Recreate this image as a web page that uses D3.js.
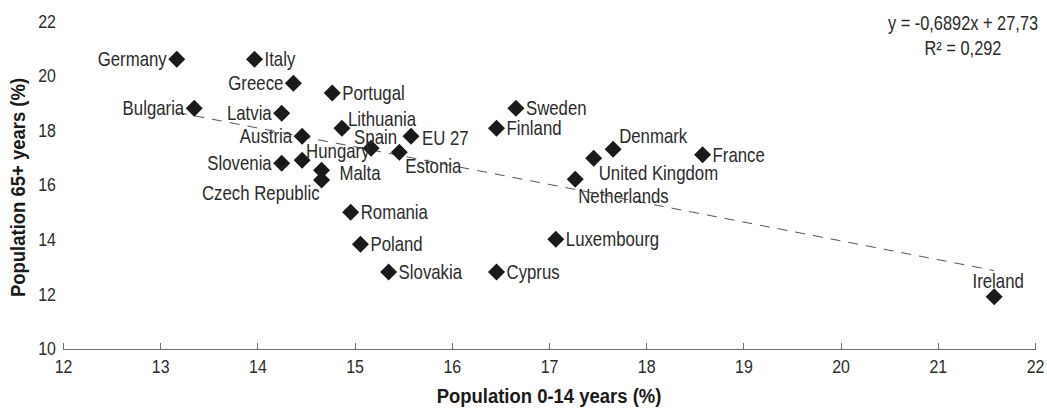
<!DOCTYPE html>
<html>
<head>
<meta charset="utf-8">
<style>
body { margin: 0; background: #fff; }
svg text { font-family: "Liberation Sans", Arial, sans-serif; fill: #2b2b2b; }
.axis path, .axis line { stroke: #6e6e6e; shape-rendering: crispEdges; }
.axis text { font-size: 19px; }
.lbl { font-size: 20px; }
.title { font-size: 21px; font-weight: bold; fill: #1a1a1a; }
</style>
</head>
<body>
<svg width="1047" height="408"></svg>
<script src="https://d3js.org/d3.v7.min.js"></script>
<script>

var countries = ["Germany","Italy","Greece","Bulgaria","Latvia","Austria","Slovenia","Hungary","Malta","Czech Republic",
  "Portugal","Lithuania","Spain","EU 27","Estonia","Romania","Poland","Slovakia","Cyprus","Finland","Sweden",
  "Luxembourg","Netherlands","United Kingdom","Denmark","France","Ireland"];
var young = [13.17,13.97,14.37,13.35,14.25,14.46,14.25,14.46,14.66,14.66,
  14.77,14.87,15.17,15.58,15.46,14.96,15.06,15.35,16.46,16.46,16.66,
  17.07,17.27,17.46,17.66,18.58,21.58];
var old = [20.6,20.6,19.72,18.8,18.62,17.78,16.79,16.9,16.53,16.17,
  19.36,18.07,17.34,17.78,17.19,14.99,13.82,12.8,12.8,18.07,18.8,
  14.0,16.2,16.97,17.3,17.1,11.9];
var xTicks = [12,13,14,15,16,17,18,19,20,21,22];
var yTicks = [10,12,14,16,18,20,22];
var slope = -0.6892, intercept = 27.73;
var eqText = ["y = -0,6892x + 27,73", "R² = 0,292"];

// label placement: anchor, dx, dy (text centre relative to marker)
var place = {
  "Germany": ["end",-10,0], "Italy": ["start",10,0], "Greece": ["end",-10,0], "Bulgaria": ["end",-10,0],
  "Latvia": ["end",-10,0], "Austria": ["end",-10,0], "Slovenia": ["end",-10,0], "Hungary": ["start",4,-9],
  "Malta": ["start",18,3], "Czech Republic": ["end",-2,13], "Portugal": ["start",10,0], "Lithuania": ["start",6,-9],
  "Spain": ["start",-17,-11], "EU 27": ["start",11,2], "Estonia": ["start",6,14], "Romania": ["start",10,0],
  "Poland": ["start",10,0], "Slovakia": ["start",10,0], "Cyprus": ["start",10,0], "Finland": ["start",10,0],
  "Sweden": ["start",10,0], "Luxembourg": ["start",10,0], "Netherlands": ["start",3,17],
  "United Kingdom": ["start",5,15], "Denmark": ["start",6,-13], "France": ["start",10,0], "Ireland": ["middle",4,-16]
};

var narrow = 0.84; // condensed look

var data = countries.map(function(c, i) { return {name: c, x: young[i], y: old[i]}; });

var svg = d3.select("svg");
var x = d3.scaleLinear().domain([12, 22]).range([63, 1035]);
var y = d3.scaleLinear().domain([10, 22]).range([348.5, 21]);

function tr(px, py, sx) {
  return "translate(" + px + "," + py + ") scale(" + sx + ",1)";
}

svg.append("g")
    .attr("class", "axis")
    .attr("transform", "translate(0," + y(10) + ")")
    .call(d3.axisBottom(x).tickValues(xTicks).tickSize(-6).tickSizeOuter(-6).tickPadding(11).tickFormat(d3.format("d")))
    .call(function(g) { g.selectAll("text").attr("dy", "0.71em").attr("transform", "scale(" + narrow + ",1)"); });

svg.append("g")
    .attr("class", "axis")
    .selectAll("text").data(yTicks).enter().append("text")
    .attr("transform", function(d) { return tr(56, y(d), narrow); })
    .attr("dy", "0.35em")
    .attr("text-anchor", "end")
    .text(function(d) { return d; });

// trend line over the data range
var xr = d3.extent(young);
svg.append("line")
    .attr("x1", x(xr[0])).attr("y1", y(slope * xr[0] + intercept))
    .attr("x2", x(xr[1])).attr("y2", y(slope * xr[1] + intercept))
    .attr("stroke", "#555").attr("stroke-width", 1)
    .attr("stroke-dasharray", "10,8");

svg.append("g").selectAll("path").data(data).enter().append("path")
    .attr("d", "M0,-8.5L8.5,0L0,8.5L-8.5,0Z")
    .attr("fill", "#1a1a1a")
    .attr("transform", function(d) { return "translate(" + x(d.x) + "," + y(d.y) + ")"; });

svg.append("g").selectAll("text").data(data).enter().append("text")
    .attr("class", "lbl")
    .attr("transform", function(d) {
      return tr(x(d.x) + place[d.name][1], y(d.y) + place[d.name][2], narrow);
    })
    .attr("dy", "0.35em")
    .attr("text-anchor", function(d) { return place[d.name][0]; })
    .text(function(d) { return d.name; });

svg.append("text").attr("class", "title")
    .attr("transform", tr((x(12) + x(22)) / 2, 403, 0.88))
    .attr("text-anchor", "middle")
    .text("Population 0-14 years (%)");

svg.append("text").attr("class", "title")
    .attr("transform", "translate(25," + ((78 + 297) / 2) + ") rotate(-90) scale(0.88,1)")
    .attr("text-anchor", "middle")
    .text("Population 65+ years (%)");

svg.append("g").selectAll("text").data(eqText).enter().append("text")
    .attr("transform", function(d, i) { return tr(963, 23 + i * 25, narrow); })
    .attr("dy", "0.35em")
    .attr("text-anchor", "middle")
    .style("font-size", "19.5px")
    .text(function(d) { return d; });

</script>
</body>
</html>
